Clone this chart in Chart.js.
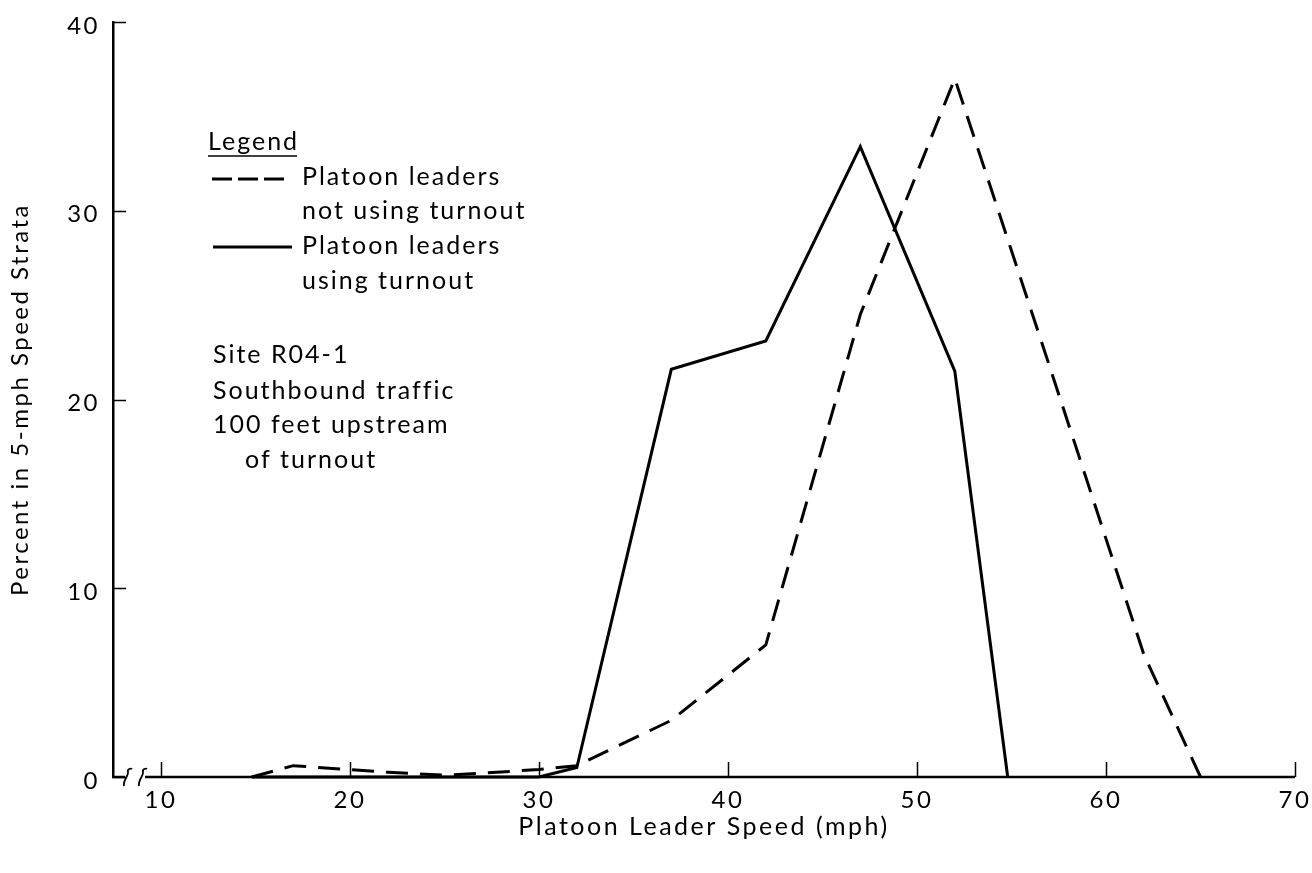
<!DOCTYPE html>
<html>
<head>
<meta charset="utf-8">
<script src="https://cdn.jsdelivr.net/npm/chart.js@4.4.0/dist/chart.umd.min.js"></script>
<style>
  html, body { margin: 0; padding: 0; background: #fff; }
  #wrap { width: 1312px; height: 873px; }
</style>
</head>
<body>
<div id="wrap"><canvas id="speedChart" width="1312" height="873"></canvas></div>
<script>
// values (speed in mph, percent in 5-mph strata)
const speedNotUsing = [14.8, 17, 22, 25, 27, 30, 32, 37, 42, 47, 52, 57, 62, 65];
const pctNotUsing   = [0, 0.6, 0.25, 0.1, 0.2, 0.4, 0.6, 3, 7, 24.5, 37, 21.8, 6.5, 0];
const speedUsing = [14.8, 30, 32, 37, 42, 47, 52, 54.8];
const pctUsing   = [0, 0, 0.5, 21.6, 23.1, 33.4, 21.5, 0];

const xTicks = [10, 20, 30, 40, 50, 60, 70];
const yTicks = [0, 10, 20, 30, 40];

const legendTitle = "Legend";
const legendNotUsing = ["Platoon leaders", "not using turnout"];
const legendUsing = ["Platoon leaders", "using turnout"];
const siteNote = ["Site R04-1", "Southbound traffic", "100 feet upstream", "of turnout"];

const FONT = "Lato";
const INK = "#000";

function toPoints(xs, ys) {
  return xs.map((x, i) => ({ x: x, y: ys[i] }));
}

// axis ticks point inward, bottom axis has a break near the origin,
// legend + site note are plain text inside the plot
const paperPlugin = {
  id: "paper",
  beforeDraw(chart) {
    chart.ctx.letterSpacing = "2.5px";
  },
  afterDraw(chart) {
    const ctx = chart.ctx;
    const { left, right, top, bottom } = chart.chartArea;
    const xs = chart.scales.x, ys = chart.scales.y;
    ctx.save();
    ctx.strokeStyle = INK;
    ctx.fillStyle = INK;

    // bottom axis with break
    ctx.lineWidth = 2.5;
    ctx.beginPath();
    ctx.moveTo(left - 1, bottom);
    ctx.lineTo(left + 12, bottom);
    ctx.moveTo(left + 32, bottom);
    ctx.lineTo(right, bottom);
    ctx.stroke();
    ctx.lineWidth = 1.8;
    [left + 15, left + 30].forEach(bx => {
      ctx.beginPath();
      ctx.moveTo(bx - 4, bottom + 9);
      ctx.bezierCurveTo(bx - 5, bottom + 2, bx + 1, bottom - 1, bx, bottom - 5);
      ctx.bezierCurveTo(bx - 1, bottom - 8, bx + 3, bottom - 9, bx + 4, bottom - 8);
      ctx.stroke();
    });

    // inward ticks
    ctx.lineWidth = 1.5;
    ctx.beginPath();
    xTicks.forEach(v => {
      const px = Math.round(xs.getPixelForValue(v)) + 0.5;
      ctx.moveTo(px, bottom);
      ctx.lineTo(px, bottom - 15);
    });
    yTicks.forEach(v => {
      const py = Math.round(ys.getPixelForValue(v)) + 0.5;
      ctx.moveTo(left, py);
      ctx.lineTo(left + 13, py);
    });
    ctx.stroke();

    // legend
    ctx.font = "25px " + FONT;
    ctx.letterSpacing = "2px";
    ctx.textAlign = "left";
    ctx.textBaseline = "alphabetic";
    const lx = left + 95;
    ctx.fillText(legendTitle, lx, top + 128);
    const w = ctx.measureText(legendTitle).width;
    ctx.lineWidth = 1.5;
    ctx.beginPath();
    ctx.moveTo(lx, top + 134);
    ctx.lineTo(lx + w - 2, top + 134);
    ctx.stroke();

    ctx.lineWidth = 3;
    ctx.setLineDash([20, 6]);
    ctx.beginPath();
    ctx.moveTo(left + 99, top + 157);
    ctx.lineTo(left + 176, top + 157);
    ctx.stroke();
    ctx.setLineDash([]);
    ctx.beginPath();
    ctx.moveTo(left + 100, top + 225);
    ctx.lineTo(left + 179, top + 225);
    ctx.stroke();

    const tx = left + 189;
    ctx.fillText(legendNotUsing[0], tx, top + 163);
    ctx.fillText(legendNotUsing[1], tx, top + 197);
    ctx.fillText(legendUsing[0], tx, top + 232);
    ctx.fillText(legendUsing[1], tx, top + 267);

    // site note
    const sx = left + 100;
    ctx.fillText(siteNote[0], sx, top + 341);
    ctx.fillText(siteNote[1], sx, top + 377);
    ctx.fillText(siteNote[2], sx, top + 411);
    ctx.fillText(siteNote[3], sx + 32, top + 446);
    ctx.restore();
  }
};

const tickFont = { family: FONT, size: 24 };

new Chart(document.getElementById("speedChart"), {
  type: "scatter",
  data: {
    datasets: [
      {
        label: "Platoon leaders not using turnout",
        data: toPoints(speedNotUsing, pctNotUsing),
        showLine: true,
        borderColor: INK,
        borderWidth: 3,
        borderDash: [22, 12],
        pointRadius: 0,
        tension: 0,
        clip: 6,
      },
      {
        label: "Platoon leaders using turnout",
        data: toPoints(speedUsing, pctUsing),
        showLine: true,
        borderColor: INK,
        borderWidth: 3,
        pointRadius: 0,
        tension: 0,
        clip: 6,
      },
    ],
  },
  options: {
    responsive: false,
    animation: false,
    devicePixelRatio: 1,
    layout: { padding: { left: 0, right: 17, top: 22, bottom: 0 } },
    plugins: {
      legend: { display: false },
      tooltip: { enabled: false },
    },
    scales: {
      x: {
        type: "linear",
        min: 7.46,
        max: 70,
        afterBuildTicks: (s) => { s.ticks = xTicks.map(v => ({ value: v })); },
        afterFit: (s) => { s.height = 96; s.paddingLeft = 0; s.paddingRight = 0; },
        grid: { display: false, drawTicks: false },
        border: { display: false },
        ticks: { padding: 9, color: INK, font: tickFont },
        title: {
          display: true,
          text: "Platoon Leader Speed (mph)",
          color: INK,
          font: { family: FONT, size: 25 },
          padding: { top: 0, bottom: 31 },
        },
      },
      y: {
        type: "linear",
        min: 0,
        max: 40,
        afterBuildTicks: (s) => { s.ticks = yTicks.map(v => ({ value: v })); },
        afterFit: (s) => { s.width = 113; s.paddingTop = 0; s.paddingBottom = 0; },
        grid: { display: false, drawTicks: false },
        border: { display: true, color: INK, width: 2.5 },
        ticks: { padding: 13, labelOffset: 4, color: INK, font: tickFont },
        title: {
          display: true,
          text: "Percent in 5-mph Speed Strata",
          color: INK,
          font: { family: FONT, size: 24 },
          padding: { top: 6, bottom: 0 },
        },
      },
    },
  },
  plugins: [paperPlugin],
});
</script>
</body>
</html>
